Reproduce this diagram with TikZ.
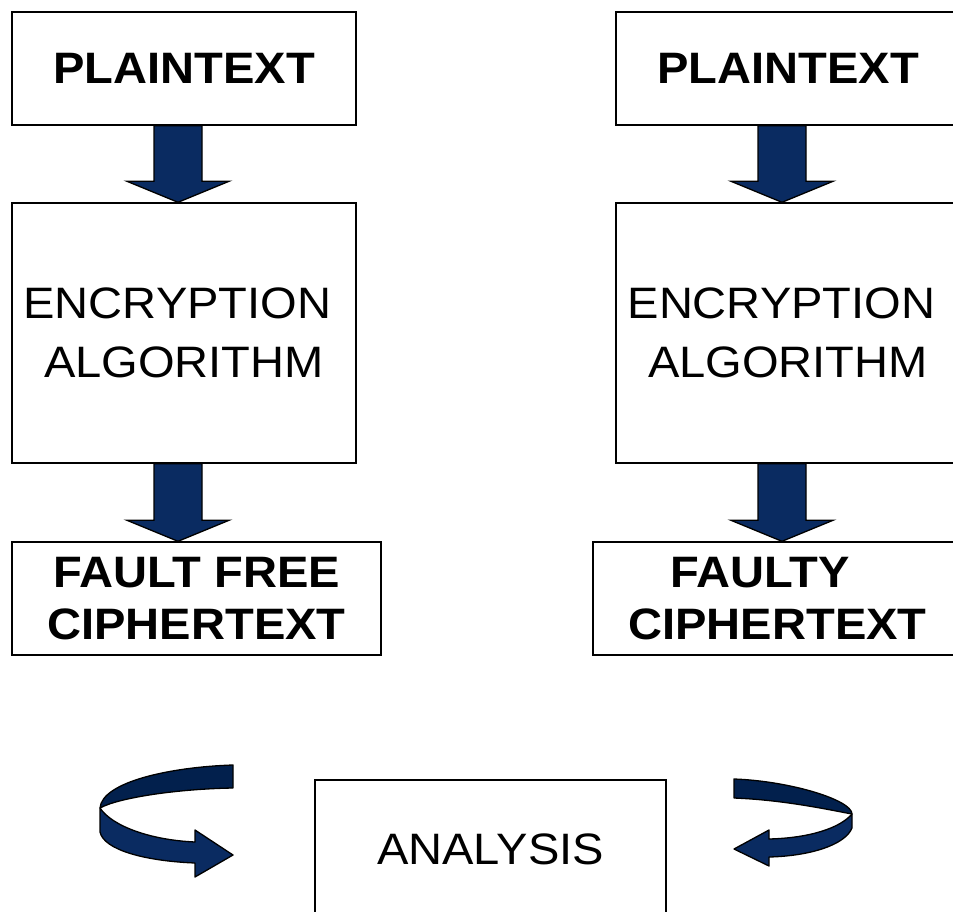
\documentclass[tikz,border=0pt]{standalone}
\usepackage{fontspec}
\setmainfont{Liberation Sans}[FakeStretch=1.07]
\usetikzlibrary{calc}
\definecolor{navy}{RGB}{10,43,97}
\definecolor{navydark}{RGB}{2,32,77}
\tikzset{
  box/.style={draw=black, line width=1.4pt, rectangle, inner sep=0pt, align=center},
  boldtext/.style={font=\fontsize{44}{51.5}\selectfont\bfseries},
  regtext/.style={font=\fontsize{44}{58.3}\selectfont},
  blockarr/.style={fill=navy, draw=black, line width=1.3pt, line join=miter},
  ribbonfront/.style={fill=navy, draw=black, line width=1.3pt, line join=round},
  ribbonback/.style={fill=navydark, draw=black, line width=1.3pt, line join=round},
}
% thick downward block arrow from the bottom of #1 to the top of #2
\newcommand\blockarrow[2]{%
  \draw[blockarr] let \p1=($(#1.south)+(-6,0)$), \p2=(#2.north) in
    (\x1-24pt,\y1) -- (\x1-24pt,\y2+21pt) -- (\x1-51pt,\y2+21pt) -- (\x1,\y2)
    -- (\x1+51pt,\y2+21pt) -- (\x1+24pt,\y2+21pt) -- (\x1+24pt,\y1) -- cycle;}
\begin{document}
\begin{tikzpicture}[x=1pt,y=-1pt]
\useasboundingbox (0,0) rectangle (953,912);
\fill[white] (0,0) rectangle (953,912);

% left column: fault-free run
\node[box, boldtext, minimum width=344, minimum height=113] (ptL) at (184,68.5) {PLAINTEXT};
\node[box, regtext, minimum width=344, minimum height=260] (encL) at (184,333) {ENCRYPTION\hspace*{13pt}\\ALGORITHM};
\node[box, boldtext, minimum width=369, minimum height=113] (ctL) at (196.5,598.5) {FAULT FREE\\CIPHERTEXT};

% right column: faulty run
\node[box, boldtext, minimum width=344, minimum height=113] (ptR) at (788,68.5) {PLAINTEXT};
\node[box, regtext, minimum width=344, minimum height=260] (encR) at (788,333) {ENCRYPTION\hspace*{13pt}\\ALGORITHM};
\node[box, boldtext, minimum width=369, minimum height=113] (ctR) at (777.5,598.5) {FAULTY\hspace*{35pt}\\CIPHERTEXT};

% comparison of the two ciphertexts
\node[box, regtext, minimum width=351, minimum height=138] (ana) at (490.5,849) {ANALYSIS};

\blockarrow{ptL}{encL}
\blockarrow{encL}{ctL}
\blockarrow{ptR}{encR}
\blockarrow{encR}{ctR}

% left curved ribbon arrow
\draw[ribbonback] (233,765) .. controls (170,767) and (102,782) .. (100,808)
  .. controls (118,798) and (175,789) .. (233,788) -- cycle;
\draw[ribbonfront] (100,808) -- (100,832) .. controls (104,850) and (145,861) .. (195,863)
  -- (195,877) -- (233,855) -- (195,830) -- (195,842)
  .. controls (150,840) and (112,826) .. (100,808) -- cycle;

% right curved ribbon arrow
\draw[ribbonback] (734,779) .. controls (790,781) and (852,800) .. (852,814)
  .. controls (830,810) and (785,800) .. (734,798) -- cycle;
\draw[ribbonfront] (852,814) -- (852,828) .. controls (845,845) and (810,856) .. (769,857)
  -- (769,866) -- (734,849) -- (769,830) -- (769,839)
  .. controls (810,838) and (840,828) .. (852,814) -- cycle;
\end{tikzpicture}
\end{document}
